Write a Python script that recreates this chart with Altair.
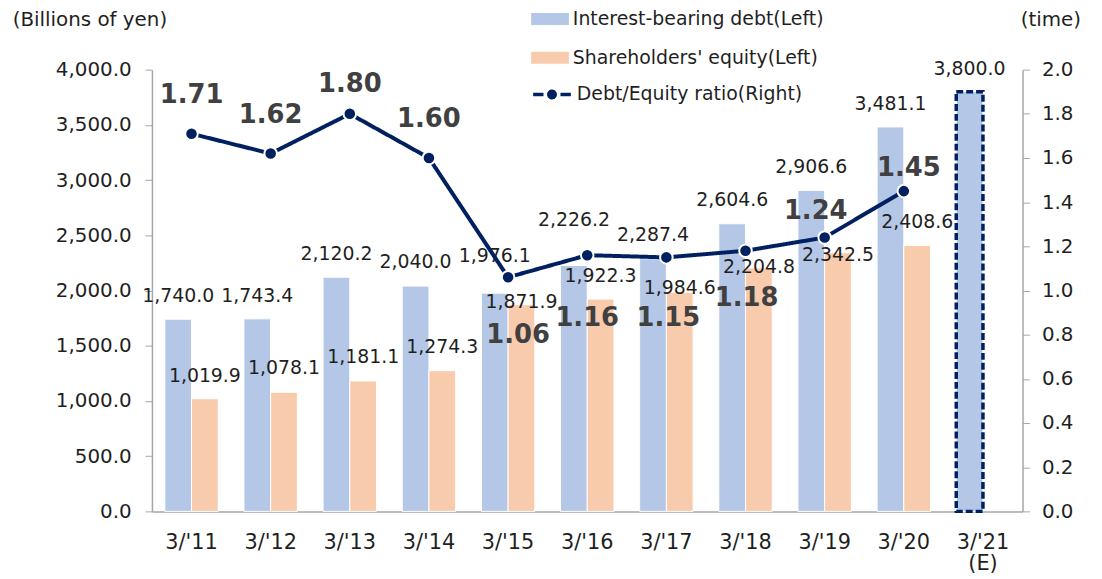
import altair as alt
import pandas as pd

# ---------------- data ----------------
categories = ["3/'11", "3/'12", "3/'13", "3/'14", "3/'15", "3/'16",
              "3/'17", "3/'18", "3/'19", "3/'20", "3/'21"]
debt = [1740.0, 1743.4, 2120.2, 2040.0, 1976.1, 2226.2,
        2287.4, 2604.6, 2906.6, 3481.1, 3800.0]
equity = [1019.9, 1078.1, 1181.1, 1274.3, 1871.9, 1922.3,
          1984.6, 2204.8, 2342.5, 2408.6, None]
ratio = [1.71, 1.62, 1.80, 1.60, 1.06, 1.16, 1.15, 1.18, 1.24, 1.45, None]

series_names = ["Interest-bearing debt(Left)", "Shareholders' equity(Left)"]
ratio_name = "Debt/Equity ratio(Right)"
forecast_category = "3/'21"
left_ticks = [0, 500, 1000, 1500, 2000, 2500, 3000, 3500, 4000]
right_ticks = [0.0, 0.2, 0.4, 0.6, 0.8, 1.0, 1.2, 1.4, 1.6, 1.8, 2.0]

# ---------------- label layout (pixel nudges, as in the reference) ----------------
debt_label_dy = [-17, -17, -17, -18, -31, -40, -18, -18, -18, -17, -17]
equity_label_dy = [-17, -18, -18, -18, 3, -17, 2, 5, 8, -18]
ratio_label_dy = [-39, -39, -30, -39, 58, 63, 61, 48, -27, -23]
ratio_label_dx = [0, 0, 0, 0, 10, 0, 2, 1, -9, 5]

rows = []
for i, (c, d) in enumerate(zip(categories, debt)):
    rows.append({"category": c, "series": series_names[0], "value": d,
                 "ldy": debt_label_dy[i]})
for i, (c, e) in enumerate(zip(categories, equity)):
    if e is not None:
        rows.append({"category": c, "series": series_names[1], "value": e,
                     "ldy": equity_label_dy[i]})
bars_df = pd.DataFrame(rows)

ratio_rows = []
for i, (c, r) in enumerate(zip(categories, ratio)):
    if r is not None:
        ratio_rows.append({"category": c, "ratio": r, "legend": ratio_name,
                           "ldy": ratio_label_dy[i], "ldx": ratio_label_dx[i]})
ratio_df = pd.DataFrame(ratio_rows)

# ---------------- styles ----------------
FONT = "DejaVu Sans"
BLUE = "#B4C7E7"
ORANGE = "#F8CBAD"
NAVY = "#002060"
AXIS_GRAY = "#A6A6A6"
TEXT = "#1f1f1f"

x_enc = alt.X(
    "category:N", sort=categories,
    scale=alt.Scale(domain=categories, paddingInner=0.325, paddingOuter=0.1625),
    axis=alt.Axis(title=None, labelAngle=0, ticks=False, labelPadding=20,
                  labelFontSize=21, labelFont=FONT, labelColor=TEXT,
                  domainColor=AXIS_GRAY, domainWidth=1.5, labelLineHeight=22,
                  labelExpr="datum.value === \"3/'21\" ? [\"3/'21\", \"(E)\"] : datum.value"),
)
xoff_enc = alt.XOffset("series:N", sort=series_names,
                       scale=alt.Scale(domain=series_names, paddingInner=0))

y_left = alt.Y(
    "value:Q", scale=alt.Scale(domain=[0, 4000], nice=False),
    axis=alt.Axis(title="(Billions of yen)", values=left_ticks, format=",.1f",
                  grid=False, tickSize=7, tickColor=AXIS_GRAY, domainColor=AXIS_GRAY,
                  domainWidth=1.5, labelPadding=14, labelFontSize=20, labelFont=FONT,
                  labelColor=TEXT, titleAngle=0, titleX=-63, titleY=-50,
                  titleAlign="center", titleBaseline="middle", titleFontSize=20,
                  titleFontWeight="normal", titleFont=FONT, titleColor=TEXT),
)

color_enc = alt.Color(
    "series:N", sort=series_names,
    scale=alt.Scale(domain=series_names, range=[BLUE, ORANGE]),
    legend=alt.Legend(orient="none", legendX=382, legendY=-70, title=None,
                      symbolType="M-1,-0.32H1V0.32H-1Z", symbolSize=1444,
                      symbolStrokeWidth=0, labelFontSize=19, labelFont=FONT,
                      labelColor=TEXT, labelLimit=0, rowPadding=10, labelOffset=4,
                      padding=0),
)

bars = alt.Chart(bars_df).mark_bar(stroke="white", strokeWidth=1).encode(
    x=x_enc, xOffset=xoff_enc, y=y_left, color=color_enc)

forecast = alt.Chart(bars_df).transform_filter(
    alt.datum.category == forecast_category
).mark_bar(fillOpacity=0, stroke=NAVY, strokeWidth=3.5, strokeDash=[7, 3]).encode(
    x=x_enc, xOffset=xoff_enc, y=y_left)

bar_labels = alt.Chart(bars_df).mark_text(
    dy=alt.expr("datum.ldy"), baseline="alphabetic", fontSize=19, font=FONT, color=TEXT
).encode(x=x_enc, xOffset=xoff_enc, y=y_left,
         text=alt.Text("value:Q", format=",.1f"))

bar_group = alt.layer(bars, forecast, bar_labels)

y_right = alt.Y(
    "ratio:Q", scale=alt.Scale(domain=[0, 2], nice=False),
    axis=alt.Axis(orient="right", title="(time)", values=right_ticks, format=".1f",
                  grid=False, tickSize=7, tickColor=AXIS_GRAY, domainColor=AXIS_GRAY,
                  domainWidth=1.5, labelPadding=12, labelFontSize=20, labelFont=FONT,
                  labelColor=TEXT, titleAngle=0, titleX=28, titleY=-50,
                  titleAlign="center", titleBaseline="middle", titleFontSize=20,
                  titleFontWeight="normal", titleFont=FONT, titleColor=TEXT),
)

line = alt.Chart(ratio_df).mark_line(color=NAVY, strokeWidth=4).encode(
    x=x_enc, y=y_right,
    strokeDash=alt.StrokeDash(
        "legend:N", scale=alt.Scale(domain=[ratio_name], range=[[1, 0]]),
        legend=alt.Legend(orient="none", legendX=382, legendY=4, title=None,
                          symbolType="M-1,0H-0.45M0.45,0H1M-0.17,0A0.17,0.17,0,1,0,0.17,0A0.17,0.17,0,1,0,-0.17,0Z",
                          symbolSize=1444, symbolStrokeColor=NAVY,
                          symbolFillColor=NAVY, symbolStrokeWidth=3.5,
                          labelFontSize=19, labelFont=FONT, labelColor=TEXT,
                          labelLimit=0, labelOffset=4, padding=0)),
)

points = alt.Chart(ratio_df).mark_circle(
    color=NAVY, size=160, stroke="white", strokeWidth=2, opacity=1
).encode(x=x_enc, y=y_right)

ratio_labels = alt.Chart(ratio_df).mark_text(
    dy=alt.expr("datum.ldy"), dx=alt.expr("datum.ldx"), baseline="middle",
    fontSize=26, fontWeight="bold", font=FONT, color="#404040"
).encode(x=x_enc, y=y_right, text=alt.Text("ratio:Q", format=".2f"))

line_group = alt.layer(line, points, ratio_labels)

chart = alt.layer(bar_group, line_group).resolve_scale(y="independent").properties(
    width=877, height=445,
    autosize=alt.AutoSizeParams(type="none"),
    padding={"left": 145, "top": 60, "right": 72, "bottom": 64},
).configure_view(stroke=None)

chart.save("out.html", embed_options={"renderer": "svg", "actions": False})
